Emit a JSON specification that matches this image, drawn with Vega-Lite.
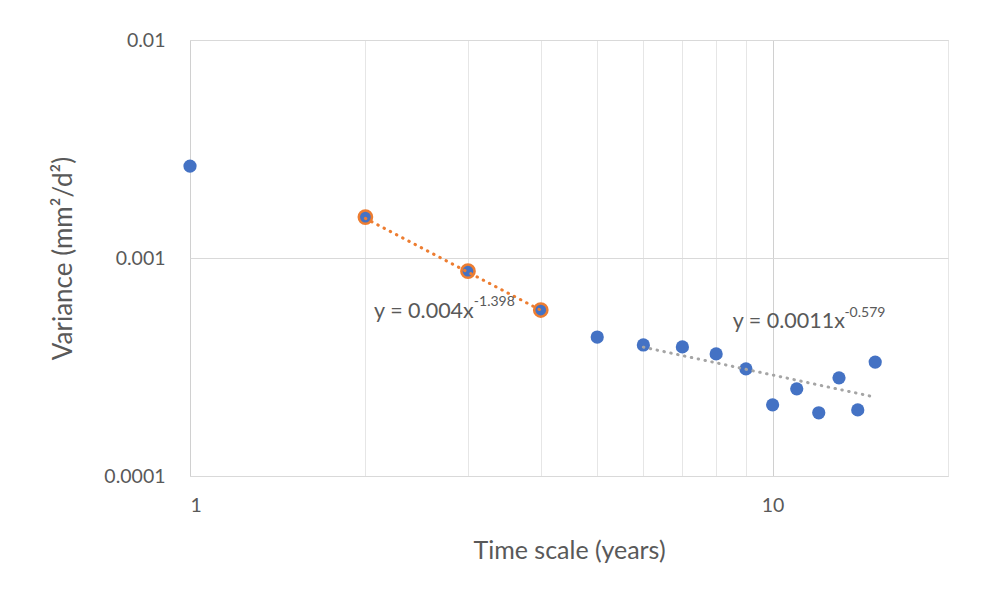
{
  "$schema": "https://vega.github.io/schema/vega-lite/v6.json",
  "autosize": {"type": "none"},
  "width": 758,
  "height": 436,
  "padding": {"left": 190, "top": 40, "right": 42, "bottom": 119},
  "background": "white",
  "config": {
    "font": "Lato",
    "view": {"stroke": "#d9d9d9", "strokeWidth": 1}
  },
  "datasets": {
    "points": [
      {"t": 1, "v": 0.00264, "g": "plain"},
      {"t": 2, "v": 0.00154, "g": "fit"},
      {"t": 3, "v": 0.00087, "g": "fit"},
      {"t": 4, "v": 0.000577, "g": "fit"},
      {"t": 5, "v": 0.000434, "g": "plain"},
      {"t": 6, "v": 0.000399, "g": "plain"},
      {"t": 7, "v": 0.000391, "g": "plain"},
      {"t": 8, "v": 0.000363, "g": "plain"},
      {"t": 9, "v": 0.00031, "g": "plain"},
      {"t": 10, "v": 0.000212, "g": "plain"},
      {"t": 11, "v": 0.000251, "g": "plain"},
      {"t": 12, "v": 0.000195, "g": "plain"},
      {"t": 13, "v": 0.000282, "g": "plain"},
      {"t": 14, "v": 0.000201, "g": "plain"},
      {"t": 15, "v": 0.000333, "g": "plain"}
    ],
    "trends": [
      {"t": 2, "v": 0.00152, "fit": "a"},
      {"t": 4, "v": 0.000576, "fit": "a"},
      {"t": 6, "v": 0.00039, "fit": "b"},
      {"t": 15, "v": 0.00023, "fit": "b"}
    ],
    "labels": [
      {"t": 2.07, "v": 0.000565, "text": "y = 0.004x", "kind": "main"},
      {"t": 3.07, "v": 0.000625, "text": "-1.398", "kind": "sup"},
      {"t": 8.54, "v": 0.000506, "text": "y = 0.0011x", "kind": "main"},
      {"t": 13.28, "v": 0.00056, "text": "-0.579", "kind": "sup"}
    ]
  },
  "layer": [
    {
      "data": {"name": "points"},
      "mark": {"type": "point", "filled": true, "fill": "#4472C4", "opacity": 1, "size": 175},
      "encoding": {
        "x": {
          "field": "t", "type": "quantitative",
          "scale": {"type": "log", "domain": [1, 20], "nice": false},
          "axis": {
            "title": "Time scale (years)",
            "values": [1, 2, 3, 4, 5, 6, 7, 8, 9, 10, 20],
            "format": "~g",
            "labelExpr": "datum.value == 1 || datum.value == 10 ? datum.label : ''",
            "ticks": false,
            "domain": false,
            "grid": true,
            "gridColor": {"condition": {"test": "datum.value == 1 || datum.value == 10", "value": "#d0d0d0"}, "value": "#e6e6e6"},
            "labelFontSize": 19.5,
            "labelColor": "#595959",
            "labelPadding": 20,
            "titleFontSize": 25,
            "titleFontWeight": "normal",
            "titleColor": "#595959",
            "titlePadding": 24
          }
        },
        "y": {
          "field": "v", "type": "quantitative",
          "scale": {"type": "log", "domain": [0.0001, 0.01], "nice": false},
          "axis": {
            "title": "Variance (mm²/d²)",
            "values": [0.0001, 0.001, 0.01],
            "format": "~g",
            "ticks": false,
            "domain": false,
            "grid": true,
            "gridColor": "#d9d9d9",
            "labelFontSize": 19.5,
            "labelColor": "#595959",
            "labelPadding": 25,
            "titleFontSize": 26,
            "titleFontWeight": "normal",
            "titleColor": "#595959",
            "titlePadding": 27
          }
        },
        "stroke": {"field": "g", "type": "nominal", "scale": {"domain": ["plain", "fit"], "range": ["#4472C4", "#ED7D31"]}, "legend": null},
        "strokeWidth": {"field": "g", "type": "nominal", "scale": {"domain": ["plain", "fit"], "range": [0, 2.5]}, "legend": null}
      }
    },
    {
      "data": {"name": "trends"},
      "mark": {"type": "line", "strokeWidth": 3, "strokeDash": [0.5, 6.5], "strokeCap": "round"},
      "encoding": {
        "x": {"field": "t", "type": "quantitative"},
        "y": {"field": "v", "type": "quantitative"},
        "detail": {"field": "fit"},
        "color": {"field": "fit", "type": "nominal", "scale": {"domain": ["a", "b"], "range": ["#ED7D31", "#A5A5A5"]}, "legend": null}
      }
    },
    {
      "data": {"name": "labels"},
      "transform": [{"filter": "datum.kind == 'main'"}],
      "mark": {"type": "text", "align": "left", "baseline": "middle", "fontSize": 21.5, "color": "#595959"},
      "encoding": {
        "x": {"field": "t", "type": "quantitative"},
        "y": {"field": "v", "type": "quantitative"},
        "text": {"field": "text"}
      }
    },
    {
      "data": {"name": "labels"},
      "transform": [{"filter": "datum.kind == 'sup'"}],
      "mark": {"type": "text", "align": "left", "baseline": "middle", "fontSize": 14, "color": "#595959"},
      "encoding": {
        "x": {"field": "t", "type": "quantitative"},
        "y": {"field": "v", "type": "quantitative"},
        "text": {"field": "text"}
      }
    }
  ]
}
